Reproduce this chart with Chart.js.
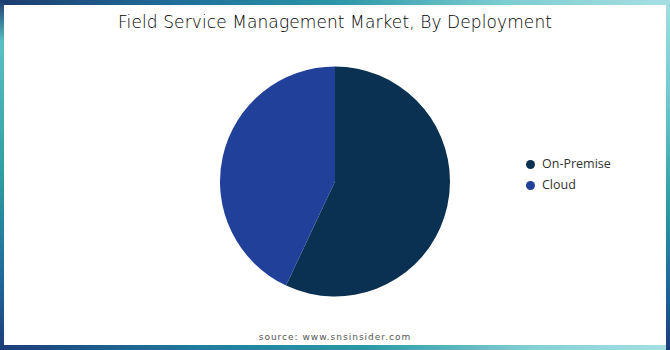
<!DOCTYPE html>
<html>
<head>
<meta charset="utf-8">
<script src="https://cdn.jsdelivr.net/npm/chart.js@4.4.0/dist/chart.umd.min.js"></script>
<style>
    html, body { margin: 0; padding: 0; }
    body { width: 670px; height: 350px; overflow: hidden; background: #fff; position: relative; }
    .edge { position: absolute; }
    .edge.top { left: 0; top: 0; width: 670px; height: 5px; background: linear-gradient(90deg, #1c3c6e 0%, #1f6b98 25%, #2a96a6 50%, #7cccd2 75%, #a6dfe3 100%); }
    .edge.bottom { left: 0; bottom: 0; width: 670px; height: 5px; background: linear-gradient(90deg, #1c3c78 0%, #1f7d9c 30%, #2a9aa6 55%, #86d0d4 80%, #a6dfe3 100%); }
    .edge.left { left: 0; top: 0; width: 4px; height: 350px; background: linear-gradient(180deg, #1c3c6e 0%, #5cbfc6 12%, #2f9ea2 50%, #21679a 80%, #1c3c78 100%); }
    .edge.right { right: 0; top: 0; width: 4px; height: 350px; background: linear-gradient(180deg, #a6dfe3 0%, #6cc6cc 30%, #2a9aa0 60%, #1f5f98 85%, #1c3c78 100%); }
    .title {
        position: absolute; left: 0; width: 670px; top: 12px;
        text-align: center; font-family: "DejaVu Sans", sans-serif; font-weight: 300;
        font-size: 17px; color: #000; letter-spacing: 0.1px;
    }
    .source {
        position: absolute; left: 0; width: 670px; top: 332px;
        text-align: center; font-family: "DejaVu Sans", sans-serif;
        font-size: 9px; color: #555; letter-spacing: 1px;
    }
    #chartBox { position: absolute; left: 215px; top: 61px; width: 240px; height: 241px; }
    .legend { position: absolute; left: 526px; top: 154px; font-family: "Open Sans", sans-serif; font-size: 12.5px; color: #333; }
    .legend div { height: 21px; line-height: 20px; }
    .legend span.dot { display: inline-block; width: 9px; height: 9px; border-radius: 50%; margin-right: 7px; vertical-align: -0.5px; }
</style>
</head>
<body>
<div class="edge top"></div>
<div class="edge bottom"></div>
<div class="edge left"></div>
<div class="edge right"></div>
<div class="title">Field Service Management Market, By Deployment</div>
<div id="chartBox"><canvas id="deploymentChart"></canvas></div>
<div class="legend" id="legend"></div>
<div class="source">source: www.snsinsider.com</div>
<script>
// Deployment share (%)
const labels = ['On-Premise', 'Cloud'];
const shares = [57, 43];
const colors = ['#0b3152', '#21409a'];

// Custom legend
const legendEl = document.getElementById('legend');
labels.forEach((label, i) => {
    const row = document.createElement('div');
    row.innerHTML = `<span class="dot" style="background:${colors[i]}"></span>${label}`;
    legendEl.appendChild(row);
});

// Pie chart
const ctx = document.getElementById('deploymentChart').getContext('2d');
new Chart(ctx, {
    type: 'pie',
    data: {
        labels: labels,
        datasets: [{
            data: shares,
            backgroundColor: colors,
            borderWidth: 0
        }]
    },
    options: {
        responsive: true,
        maintainAspectRatio: false,
        animation: false,
        layout: { padding: 5 },
        plugins: {
            legend: { display: false },
            tooltip: { enabled: false }
        }
    }
});
</script>
</body>
</html>
